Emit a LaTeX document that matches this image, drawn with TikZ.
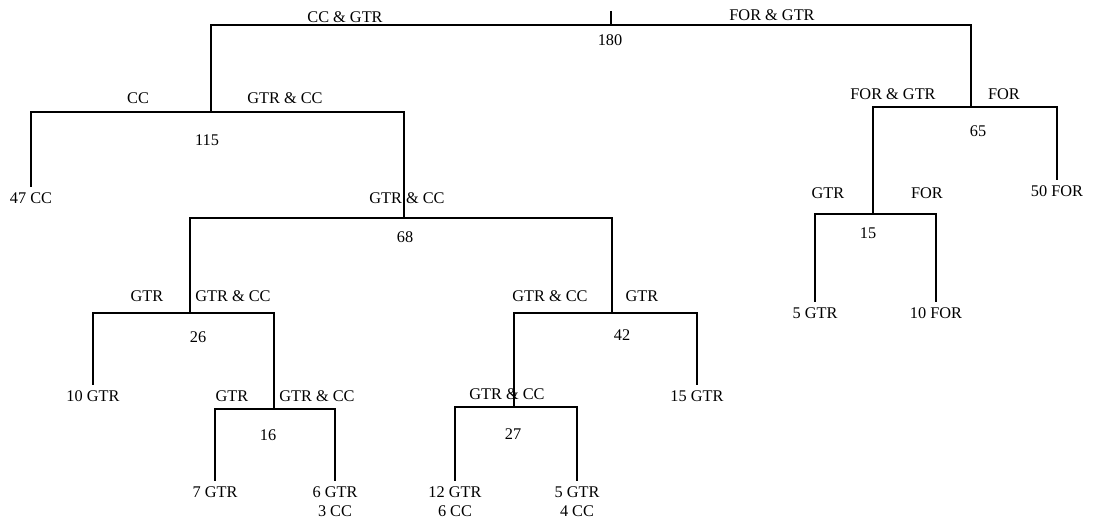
\documentclass[tikz,border=0pt]{standalone}
\usepackage{fontspec}
\setmainfont{Liberation Serif}
\usetikzlibrary{positioning}
\newcommand{\treefont}{\fontsize{11.6}{13.5}\selectfont}
\tikzset{
  branch/.style={line width=1.1pt, color=black},
  leaf/.style={
    anchor=north, inner xsep=1pt, inner ysep=4pt,
    align=center, font=\treefont
  },
  splitlab/.style={inner sep=0pt, font=\treefont},
  countlab/.style={inner sep=0pt, font=\treefont}
}

\begin{document}
\begin{tikzpicture}[x=0.025cm, y=-0.025cm]

  \useasboundingbox (0,0) rectangle (1099,524);

  % split points
  \coordinate (rtop) at (611,11);
  \coordinate (n180) at (611,25);
  \coordinate (n115) at (211,112);
  \coordinate (n65)  at (971,107);
  \coordinate (n68)  at (404,218);
  \coordinate (n26)  at (190,313);
  \coordinate (n42)  at (612,313);
  \coordinate (n16)  at (274,409);
  \coordinate (n27)  at (514,407);
  \coordinate (n15)  at (873,214);

  % leaves
  \node[leaf] (l47cc)  at (31,187)  {47 CC};
  \node[leaf] (l10gtr) at (93,385)  {10 GTR};
  \node[leaf] (l7gtr)  at (215,481) {7 GTR};
  \node[leaf] (l6gtr)  at (335,481) {6 GTR\\3 CC};
  \node[leaf] (l12gtr) at (455,481) {12 GTR\\6 CC};
  \node[leaf] (l5gtr)  at (577,481) {5 GTR\\4 CC};
  \node[leaf] (l15gtr) at (697,385) {15 GTR};
  \node[leaf] (l50for) at (1057,180) {50 FOR};
  \node[leaf] (l5gtrb) at (815,302) {5 GTR};
  \node[leaf] (l10for) at (936,302) {10 FOR};

  % counts
  \node[countlab] (c180) at (610,40)  {180};
  \node[countlab] (c115) at (207,140) {115};
  \node[countlab] (c65)  at (978,131) {65};
  \node[countlab] (c68)  at (405,237) {68};
  \node[countlab] (c26)  at (198,337) {26};
  \node[countlab] (c42)  at (622,335) {42};
  \node[countlab] (c16)  at (268,435) {16};
  \node[countlab] (c27)  at (513,434) {27};
  \node[countlab] (c15)  at (868,233) {15};

  % branch labels
  \node[splitlab] (s180l) at (345,17)  {CC \& GTR};
  \node[splitlab] (s180r) at (772,15)  {FOR \& GTR};
  \node[splitlab] (s115l) at (138,98)  {CC};
  \node[splitlab] (s115r) at (285,98)  {GTR \& CC};
  \node[splitlab] (s65l)  at (893,94)  {FOR \& GTR};
  \node[splitlab] (s65r)  at (1004,94) {FOR};
  \node[splitlab] (s68)   at (407,198) {GTR \& CC};
  \node[splitlab] (s26l)  at (147,296) {GTR};
  \node[splitlab] (s26r)  at (233,296) {GTR \& CC};
  \node[splitlab] (s42l)  at (550,296) {GTR \& CC};
  \node[splitlab] (s42r)  at (642,296) {GTR};
  \node[splitlab] (s16l)  at (232,396) {GTR};
  \node[splitlab] (s16r)  at (317,396) {GTR \& CC};
  \node[splitlab] (s27)   at (507,394) {GTR \& CC};
  \node[splitlab] (s15l)  at (828,193) {GTR};
  \node[splitlab] (s15r)  at (927,193) {FOR};

  \draw[branch] (rtop) -- (n180);
  \foreach \a/\b in {n180/n115, n180/n65, n115/l47cc.north, n115/n68,
                     n68/n26, n68/n42, n26/l10gtr.north, n26/n16,
                     n16/l7gtr.north, n16/l6gtr.north, n42/n27,
                     n42/l15gtr.north, n27/l12gtr.north, n27/l5gtr.north,
                     n65/n15, n65/l50for.north, n15/l5gtrb.north,
                     n15/l10for.north}{
    \draw[branch] (\a) -| (\b);
  }

\end{tikzpicture}
\end{document}
